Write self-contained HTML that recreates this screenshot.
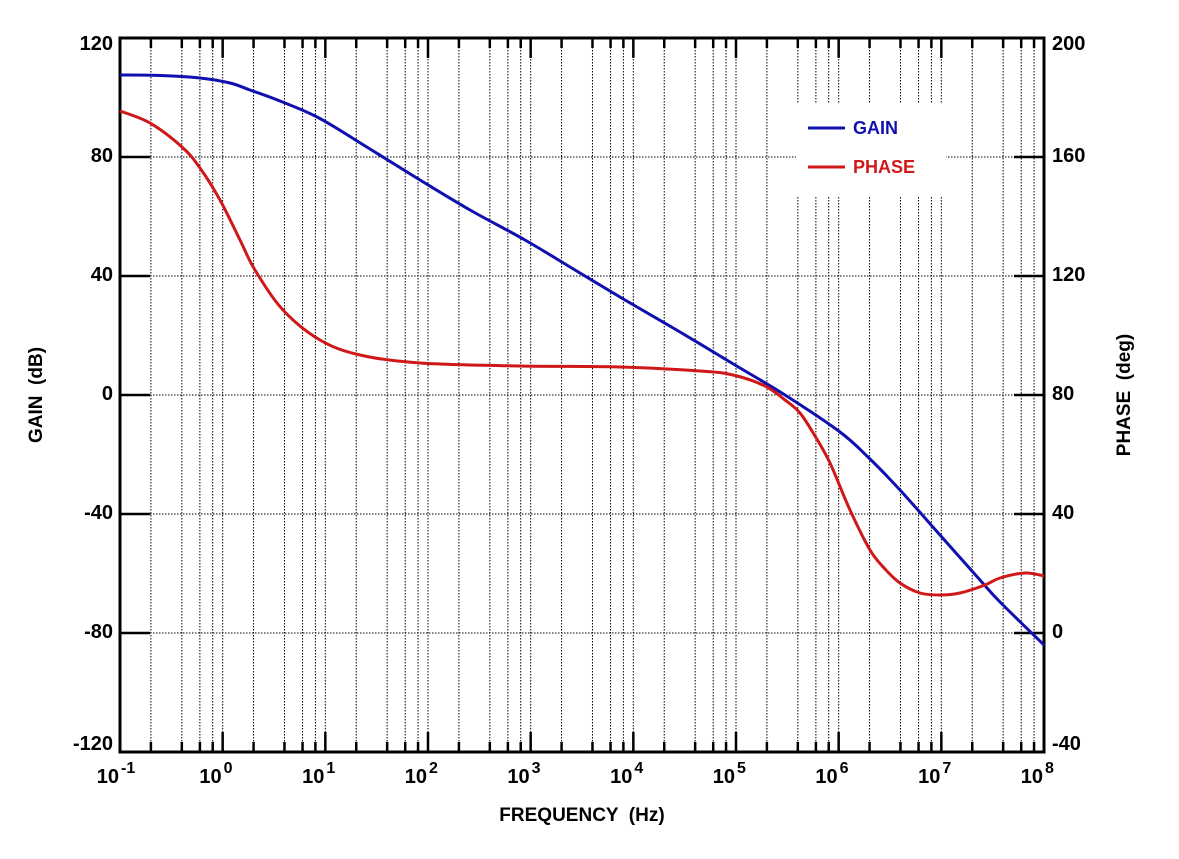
<!DOCTYPE html>
<html><head><style>body{margin:0;background:#fff}svg{display:block}text{font-family:"Liberation Sans",Arial,sans-serif;font-weight:bold;fill:#000;white-space:pre}</style></head>
<body>
<svg width="1179" height="859" viewBox="0 0 1179 859" xmlns="http://www.w3.org/2000/svg" xml:space="preserve">
<g id="grid" stroke="#000" stroke-width="1" stroke-dasharray="1.5,1.5" fill="none"></g>
<rect x="796" y="104" width="150" height="92" fill="#fff"/>
<g id="ticks" stroke="#000" stroke-width="2.5"></g>
<rect x="120" y="38" width="924" height="714" fill="none" stroke="#000" stroke-width="3"/>
<g id="labels"></g>
<path id="gain" fill="none" stroke="#1010b0" stroke-width="3" stroke-linejoin="round"/>
<path id="phase" fill="none" stroke="#d01818" stroke-width="3" stroke-linejoin="round"/>
<line x1="808" y1="128" x2="845" y2="128" stroke="#1010b0" stroke-width="3"/>
<line x1="808" y1="167" x2="845" y2="167" stroke="#d01818" stroke-width="3"/>
<text x="853" y="134" font-size="18" style="fill:#1010b0">GAIN</text>
<text x="853" y="173" font-size="18" style="fill:#d01818">PHASE</text>
<text x="582" y="821" font-size="19" text-anchor="middle">FREQUENCY  (Hz)</text>
<text transform="translate(42,395) rotate(-90)" font-size="19" text-anchor="middle">GAIN  (dB)</text>
<text transform="translate(1130,395) rotate(-90)" font-size="19" text-anchor="middle">PHASE  (deg)</text>
</svg>
<script>
const NS="http://www.w3.org/2000/svg";
function el(p,t,a,txt){const e=document.createElementNS(NS,t);for(const k in a)e.setAttribute(k,a[k]);if(txt!==undefined)e.textContent=txt;p.appendChild(e);return e;}
const g=document.getElementById('grid'),tk=document.getElementById('ticks'),lb=document.getElementById('labels');
const L=120,R=1044,T=38,B=752,D=(R-L)/9;
for(let d=0;d<9;d++){for(const m of [2,4,6,8,10]){const x=L+D*(d+Math.log10(m));
 if(x<R-1)el(g,'line',{x1:x,y1:T,x2:x,y2:B});
 const len=m==10?20:10;
 if(x<R-1){el(tk,'line',{x1:x,y1:T,x2:x,y2:T+len});el(tk,'line',{x1:x,y1:B,x2:x,y2:B-len});}}}
for(let i=1;i<6;i++){const y=T+i*(B-T)/6;el(g,'line',{x1:L,y1:y,x2:R,y2:y});
 el(tk,'line',{x1:L,y1:y,x2:L+30,y2:y});el(tk,'line',{x1:R,y1:y,x2:R-30,y2:y});}
for(let i=0;i<=6;i++){const y=T+i*(B-T)/6;const off=i==0?12:(i==6?-2:5);
 el(lb,'text',{x:113,y:y+off,'font-size':20,'text-anchor':'end'},String(120-40*i));
 el(lb,'text',{x:1052,y:y+off,'font-size':20},String(200-40*i));}
for(let d=0;d<=9;d++){const x=L+D*d;el(lb,'text',{x:x-1,y:783,'font-size':20,'text-anchor':'end'},'10');
 el(lb,'text',{x:x+1,y:773,'font-size':16},String(d-1));}
function smooth(pts){let s='M'+pts[0][0]+','+pts[0][1];
 for(let i=0;i<pts.length-1;i++){const p0=pts[i-1]||pts[i],p1=pts[i],p2=pts[i+1],p3=pts[i+2]||p2;
  const c1=[p1[0]+(p2[0]-p0[0])/6,p1[1]+(p2[1]-p0[1])/6],c2=[p2[0]-(p3[0]-p1[0])/6,p2[1]-(p3[1]-p1[1])/6];
  s+=' C'+c1+' '+c2+' '+p2;}return s;}
document.getElementById('gain').setAttribute('d',smooth([[120,75],[160,75.5],[200,78],[230,83],[250,90],[280,101],[319,118],[370,149],[420,180],[470,210],[525,240],[575,270],[625,300],[680,332],[735,365],[785,395],[840,432],[870,459],[900,490],[940,535],[980,580],[1000,602],[1044,645]]));
document.getElementById('phase').setAttribute('d',smooth([[120,111],[150,123],[182,147],[200,168],[220,200],[240,240],[255,270],[283,310],[320,340],[360,355],[420,363],[520,366],[620,367],[700,371],[733,375],[765,386],[785,400],[800,413],[815,436],[830,463],[850,510],[870,550],[885,569],[900,583],[920,593],[940,595],[960,593],[985,585],[1000,578],[1025,573],[1044,576]]));
</script>
</body></html>
